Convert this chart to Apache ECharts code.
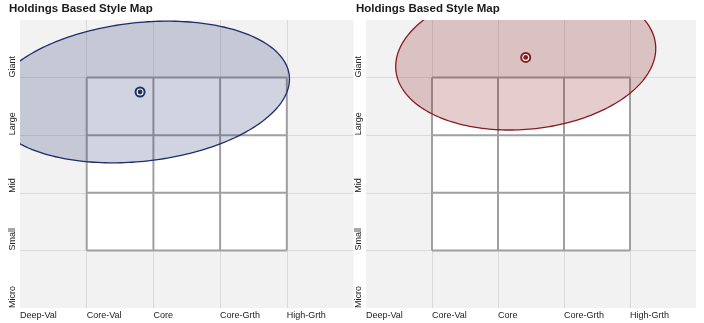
<!DOCTYPE html>
<html>
<head>
<meta charset="utf-8">
<script src="https://cdn.jsdelivr.net/npm/echarts@6/dist/echarts.min.js"></script>
<style>
  html, body { margin: 0; padding: 0; background: #ffffff; }
  #chart { width: 704px; height: 323px; }
</style>
</head>
<body>
<div id="chart"></div>
<script>
// Style axis (left to right) and size axis (bottom to top)
const styleLabels = ['Deep-Val', 'Core-Val', 'Core', 'Core-Grth', 'High-Grth'];
const sizeLabels = ['Micro', 'Small', 'Mid', 'Large', 'Giant'];

// Core region of the map: style index range and size index range
const coreStyleRange = [1, 4];
const coreSizeRange = [1, 4];

// Holdings centroid [style score, size score]
const fundCentroid = [1.80, 3.75];
const peerCentroid = [2.42, 4.35];

// Holdings dispersion: [style spread, size spread, style/size correlation]
const fundSpread = [2.24, 1.23, 0.183];
const peerSpread = [1.97, 1.26, 0.124];

const FONT = '"Liberation Sans", Arial, Helvetica, sans-serif';

const chart = echarts.init(document.getElementById('chart'), null, { renderer: 'canvas' });

function xAxisFor(idx) {
  return {
    gridIndex: idx, type: 'value', min: 0, max: styleLabels.length, interval: 1,
    axisLine: { show: false }, axisTick: { show: false },
    axisLabel: {
      formatter: v => styleLabels[v] || '', align: 'left', margin: 3,
      fontFamily: FONT, fontSize: 9, color: '#222'
    },
    splitLine: { show: true, showMinLine: false, showMaxLine: false, lineStyle: { color: '#dadada', width: 1 } }
  };
}
function yAxisFor(idx) {
  return {
    gridIndex: idx, type: 'value', min: 0, max: sizeLabels.length, interval: 1,
    axisLine: { show: false }, axisTick: { show: false },
    axisLabel: {
      formatter: v => sizeLabels[v] || '', rotate: 90, align: 'left', verticalAlign: 'bottom',
      margin: 3, fontFamily: FONT, fontSize: 9, color: '#222'
    },
    splitLine: { show: true, showMinLine: false, showMaxLine: false, lineStyle: { color: '#dadada', width: 1 } }
  };
}

// White core box with its internal grid
function renderCore(params, api) {
  const children = [];
  const tl = api.coord([coreStyleRange[0], coreSizeRange[1]]);
  const br = api.coord([coreStyleRange[1], coreSizeRange[0]]);
  const line = { stroke: '#a0a0a0', lineWidth: 2 };
  children.push({ type: 'rect', shape: { x: tl[0], y: tl[1], width: br[0] - tl[0], height: br[1] - tl[1] },
    style: { fill: '#ffffff', stroke: null } });
  for (let s = coreStyleRange[0]; s <= coreStyleRange[1]; s++) {
    const a = api.coord([s, coreSizeRange[0]]), b = api.coord([s, coreSizeRange[1]]);
    children.push({ type: 'line', shape: { x1: a[0], y1: a[1], x2: b[0], y2: b[1] }, style: line });
  }
  for (let z = coreSizeRange[0]; z <= coreSizeRange[1]; z++) {
    const a = api.coord([coreStyleRange[0], z]), b = api.coord([coreStyleRange[1], z]);
    children.push({ type: 'line', shape: { x1: a[0], y1: a[1], x2: b[0], y2: b[1] }, style: line });
  }
  return { type: 'group', children };
}

// Dispersion ellipse around the centroid
function ellipseRenderer(fill, stroke) {
  return function (params, api) {
    const cx = api.value(0), cy = api.value(1), sx = api.value(2), sy = api.value(3), rho = api.value(4);
    const k = Math.sqrt(1 - rho * rho);
    const pts = [];
    for (let i = 0; i < 240; i++) {
      const t = i / 240 * Math.PI * 2;
      pts.push(api.coord([cx + sx * Math.cos(t), cy + sy * (rho * Math.cos(t) + k * Math.sin(t))]));
    }
    return { type: 'polygon', shape: { points: pts }, style: { fill, stroke, lineWidth: 1.3 } };
  };
}

// Centroid marker: ring with a centre dot
function markerRenderer(color) {
  return function (params, api) {
    const p = api.coord([api.value(0), api.value(1)]);
    return { type: 'group', children: [
      { type: 'circle', shape: { cx: p[0], cy: p[1], r: 4.5 }, style: { fill: '#ffffff', stroke: color, lineWidth: 2 } },
      { type: 'circle', shape: { cx: p[0], cy: p[1], r: 2.4 }, style: { fill: color } }
    ] };
  };
}

function panelSeries(idx, centroid, spread, fill, stroke) {
  return [
    { type: 'custom', xAxisIndex: idx, yAxisIndex: idx, z: 1, silent: true,
      renderItem: renderCore, data: [[0, 0]] },
    { type: 'custom', xAxisIndex: idx, yAxisIndex: idx, z: 2, silent: true, clip: true,
      renderItem: ellipseRenderer(fill, stroke),
      data: [[centroid[0], centroid[1], spread[0], spread[1], spread[2]]] },
    { type: 'custom', xAxisIndex: idx, yAxisIndex: idx, z: 3, silent: true,
      renderItem: markerRenderer(stroke), data: [centroid] }
  ];
}

const titleStyle = { fontFamily: FONT, fontSize: 11.5, fontWeight: 'bold', color: '#1a1a1a' };

chart.setOption({
  animation: false,
  backgroundColor: '#ffffff',
  title: [
    { text: 'Holdings Based Style Map', left: 9, top: 3, padding: 0, textStyle: titleStyle },
    { text: 'Holdings Based Style Map', left: 356, top: 3, padding: 0, textStyle: titleStyle }
  ],
  grid: [
    { left: 20, top: 20, width: 333.5, height: 288, show: true, backgroundColor: '#f2f2f2', borderWidth: 0 },
    { left: 366, top: 20, width: 330, height: 288, show: true, backgroundColor: '#f2f2f2', borderWidth: 0 }
  ],
  xAxis: [xAxisFor(0), xAxisFor(1)],
  yAxis: [yAxisFor(0), yAxisFor(1)],
  series: [
    ...panelSeries(0, fundCentroid, fundSpread, 'rgba(31,45,107,0.21)', '#1f2d6b'),
    ...panelSeries(1, peerCentroid, peerSpread, 'rgba(130,20,24,0.21)', '#8a1a1e')
  ]
});
</script>
</body>
</html>
